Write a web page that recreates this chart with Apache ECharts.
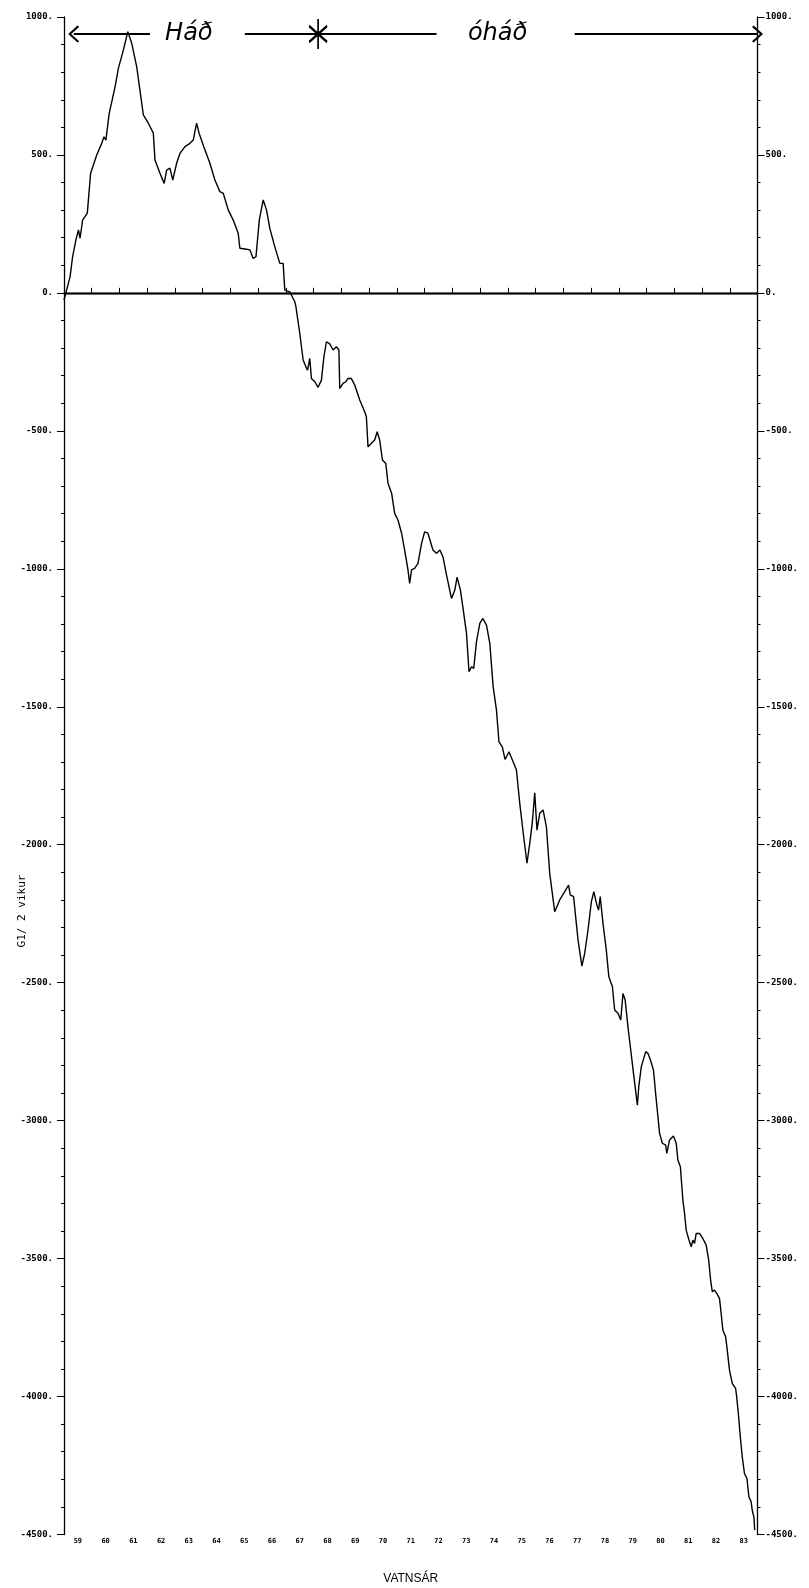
<!DOCTYPE html>
<html>
<head>
<meta charset="utf-8">
<title>G1 / 2 vikur — VATNSÁR</title>
<script src="https://cdn.jsdelivr.net/npm/echarts@6/dist/echarts.min.js"></script>
<style>
  html, body { margin: 0; padding: 0; background: #fff; }
  #chart { width: 809px; height: 1588px; }
</style>
</head>
<body>
<div id="chart"></div>
<script>
// Water-year labels along the bottom axis
const yearLabels = ['59','60','61','62','63','64','65','66','67','68','69','70','71',
                    '72','73','74','75','76','77','78','79','80','81','82','83'];

// Time of each vertex of the cumulative curve (decimal years)
const timeYears = [
  1959.00,1959.22,1959.31,1959.43,1959.52,1959.58,1959.67,1959.84,1959.96,1960.18,
  1960.36,1960.44,1960.51,1960.63,1960.84,1960.96,1961.14,1961.30,1961.44,1961.62,
  1961.86,1962.04,1962.22,1962.28,1962.46,1962.61,1962.70,1962.82,1962.92,1963.06,
  1963.18,1963.36,1963.54,1963.66,1963.78,1963.87,1964.04,1964.26,1964.44,1964.62,
  1964.74,1964.92,1965.10,1965.28,1965.34,1965.58,1965.70,1965.82,1965.92,1966.04,
  1966.18,1966.30,1966.42,1966.60,1966.78,1966.90,1966.96,1967.14,1967.32,1967.36,
  1967.50,1967.62,1967.72,1967.78,1967.86,1967.92,1968.04,1968.16,1968.28,1968.37,
  1968.46,1968.58,1968.70,1968.82,1968.91,1968.94,1969.06,1969.16,1969.24,1969.36,
  1969.48,1969.66,1969.84,1969.90,1969.96,1970.08,1970.20,1970.29,1970.38,1970.48,
  1970.60,1970.68,1970.81,1970.92,1971.04,1971.17,1971.28,1971.40,1971.46,1971.53,
  1971.64,1971.76,1971.89,1972.00,1972.12,1972.30,1972.43,1972.55,1972.66,1972.79,
  1972.97,1973.09,1973.17,1973.29,1973.38,1973.51,1973.60,1973.69,1973.77,1973.87,
  1973.99,1974.10,1974.23,1974.35,1974.47,1974.59,1974.68,1974.80,1974.90,1975.04,
  1975.19,1975.31,1975.43,1975.57,1975.69,1975.79,1975.88,1975.97,1976.05,1976.15,
  1976.27,1976.39,1976.51,1976.69,1976.87,1977.05,1977.19,1977.25,1977.37,1977.53,
  1977.67,1977.77,1977.89,1978.01,1978.10,1978.21,1978.27,1978.33,1978.43,1978.55,
  1978.64,1978.77,1978.85,1978.97,1979.07,1979.15,1979.23,1979.33,1979.43,1979.53,
  1979.67,1979.72,1979.81,1979.97,1980.05,1980.14,1980.25,1980.35,1980.47,1980.57,
  1980.69,1980.73,1980.83,1980.97,1981.07,1981.13,1981.22,1981.31,1981.37,1981.43,
  1981.53,1981.61,1981.67,1981.73,1981.79,1981.91,1982.03,1982.15,1982.24,1982.31,
  1982.37,1982.45,1982.53,1982.63,1982.69,1982.75,1982.85,1982.91,1982.99,1983.09,
  1983.21,1983.25,1983.32,1983.38,1983.45,1983.53,1983.62,1983.69,1983.77,1983.81,
  1983.87,1983.90
];

// Cumulative G1 sum per two-week period
const cumulativeG1 = [
  -26,59,131,192,228,198,264,289,434,500,
  542,566,554,651,747,814,880,947,905,820,
  645,615,579,482,434,397,445,452,409,470,
  506,530,542,554,615,579,530,470,409,367,
  361,301,264,216,162,158,156,125,131,264,
  337,301,234,167,107,107,10,4,-32,-50,
  -147,-243,-268,-280,-237,-310,-322,-342,-316,-231,
  -177,-185,-207,-195,-207,-346,-328,-322,-310,-310,
  -334,-388,-431,-449,-558,-545,-533,-503,-533,-606,
  -618,-690,-726,-799,-823,-871,-932,-1004,-1053,-1004,
  -998,-980,-908,-866,-871,-932,-944,-932,-956,-1023,
  -1108,-1077,-1030,-1077,-1140,-1234,-1373,-1355,-1361,-1264,
  -1198,-1180,-1204,-1270,-1427,-1512,-1627,-1645,-1691,-1663,
  -1699,-1729,-1850,-1971,-2067,-1995,-1922,-1812,-1947,-1886,
  -1874,-1935,-2104,-2243,-2200,-2170,-2146,-2182,-2188,-2345,
  -2440,-2394,-2309,-2207,-2170,-2219,-2237,-2188,-2285,-2382,
  -2478,-2515,-2599,-2611,-2635,-2539,-2563,-2660,-2744,-2829,
  -2944,-2877,-2805,-2750,-2756,-2780,-2817,-2925,-3046,-3082,
  -3089,-3119,-3070,-3056,-3082,-3143,-3167,-3288,-3336,-3397,
  -3433,-3457,-3433,-3445,-3409,-3409,-3427,-3451,-3505,-3578,
  -3620,-3614,-3626,-3644,-3699,-3759,-3783,-3832,-3904,-3952,
  -3970,-4001,-4073,-4146,-4218,-4279,-4297,-4363,-4381,-4412,
  -4436,-4484
];

// Hand-drawn period annotation along the top of the plot
const periodLevel = 938;
const dependentSpan = [1959.35, 1962.10];    // "Háð" arrow
const breakSpan = [1965.52, 1972.43];        // line through the break marker
const breakYear = 1968.16;                   // asterisk
const independentSpan = [1977.41, 1984.00];  // "óháð" arrow
const dependentLabelYear = 1963.50;
const independentLabelYear = 1974.63;

const seriesData = timeYears.map((t, i) => [t, cumulativeG1[i]]);

const INK = '#000';
const MONO = 'DejaVu Sans Mono';
const chevron = 'path://M0,0 L10,9 L8.4,10.6 L0,2.9 L-8.4,10.6 L-10,9 Z';
const asterisk = 'path://M9,0 L9,30 M0,7 L18,23 M18,7 L0,23';

const chart = echarts.init(document.getElementById('chart'), null, { renderer: 'canvas' });

const yAxisCommon = {
  type: 'value',
  min: -4500,
  max: 1000,
  interval: 500,
  splitLine: { show: false },
  axisLine: { show: true, lineStyle: { color: INK, width: 1.3 } },
  axisTick: { show: true, length: 7, lineStyle: { color: INK, width: 1 } },
  minorTick: { show: true, splitNumber: 5, length: 3, lineStyle: { color: INK, width: 1 } },
  minorSplitLine: { show: false },
  axisLabel: {
    formatter: v => v + '.',
    fontFamily: MONO,
    fontWeight: 'bold',
    fontSize: 9,
    color: INK
  }
};

chart.setOption({
  animation: false,
  backgroundColor: '#fff',
  grid: {
    left: 64, right: 51.5, top: 17, bottom: 53.5,
    containLabel: false,
    outerBoundsMode: 'none'
  },
  xAxis: [
    {
      type: 'category',
      position: 'bottom',
      data: yearLabels,
      boundaryGap: true,
      name: 'VATNSÁR',
      nameLocation: 'middle',
      nameGap: 38,
      nameTextStyle: { fontFamily: 'Liberation Sans', fontSize: 12, color: INK },
      axisLine: { show: true, lineStyle: { color: INK, width: 1.3 } },
      axisTick: { show: true, inside: true, length: 5, lineStyle: { color: INK, width: 1 } },
      axisLabel: {
        interval: 0,
        margin: 3,
        fontFamily: MONO,
        fontWeight: 'bold',
        fontSize: 7,
        color: INK
      },
      splitLine: { show: false }
    },
    {
      type: 'category',
      position: 'top',
      data: yearLabels,
      boundaryGap: true,
      axisLine: { show: true, lineStyle: { color: INK, width: 1.3 } },
      axisTick: { show: true, inside: false, length: 5, lineStyle: { color: INK, width: 1 } },
      axisLabel: { show: false },
      splitLine: { show: false }
    },
    {
      type: 'value',
      min: 1959,
      max: 1984,
      show: false
    }
  ],
  yAxis: [
    Object.assign({}, yAxisCommon, { position: 'left', axisLabel: Object.assign({}, yAxisCommon.axisLabel, { margin: 11 }) }),
    Object.assign({}, yAxisCommon, { position: 'right', axisLabel: Object.assign({}, yAxisCommon.axisLabel, { margin: 8 }) })
  ],
  graphic: [
    {
      type: 'text',
      x: 22,
      y: 911,
      rotation: Math.PI / 2,
      style: {
        text: 'G1/ 2 vikur',
        fontFamily: MONO,
        fontSize: 11,
        fill: INK,
        align: 'center',
        verticalAlign: 'middle'
      }
    }
  ],
  series: [
    {
      name: 'G1',
      type: 'line',
      xAxisIndex: 2,
      yAxisIndex: 0,
      data: seriesData,
      showSymbol: false,
      symbol: 'none',
      lineStyle: { color: INK, width: 1.4 },
      z: 3,
      markLine: {
        silent: true,
        animation: false,
        symbol: ['none', 'none'],
        label: { show: false },
        lineStyle: { color: INK, width: 1.3, type: 'solid' },
        data: [
          { yAxis: 0 },
          [
            { coord: [dependentSpan[0], periodLevel], symbol: chevron, symbolSize: [17, 11],
              lineStyle: { width: 2 } },
            { coord: [dependentSpan[1], periodLevel], symbol: 'none' }
          ],
          [
            { coord: [breakSpan[0], periodLevel], symbol: 'none', lineStyle: { width: 2 } },
            { coord: [breakSpan[1], periodLevel], symbol: 'none' }
          ],
          [
            { coord: [independentSpan[0], periodLevel], symbol: 'none', lineStyle: { width: 2 } },
            { coord: [independentSpan[1], periodLevel], symbol: chevron, symbolSize: [17, 11] }
          ]
        ]
      },
      markPoint: {
        silent: true,
        animation: false,
        data: [
          {
            coord: [breakYear, periodLevel],
            symbol: asterisk,
            symbolSize: [18, 30],
            itemStyle: { color: 'rgba(0,0,0,0)', borderColor: INK, borderWidth: 2.2 },
            label: { show: false }
          },
          {
            coord: [dependentLabelYear, periodLevel],
            symbol: 'circle',
            symbolSize: 1,
            itemStyle: { color: 'rgba(0,0,0,0)' },
            label: {
              show: true, position: 'inside', formatter: 'Háð',
              fontFamily: 'DejaVu Sans', fontStyle: 'italic', fontSize: 24, color: INK
            }
          },
          {
            coord: [independentLabelYear, periodLevel],
            symbol: 'circle',
            symbolSize: 1,
            itemStyle: { color: 'rgba(0,0,0,0)' },
            label: {
              show: true, position: 'inside', formatter: 'óháð',
              fontFamily: 'DejaVu Sans', fontStyle: 'italic', fontSize: 24, color: INK
            }
          }
        ]
      }
    }
  ]
});
</script>
</body>
</html>
